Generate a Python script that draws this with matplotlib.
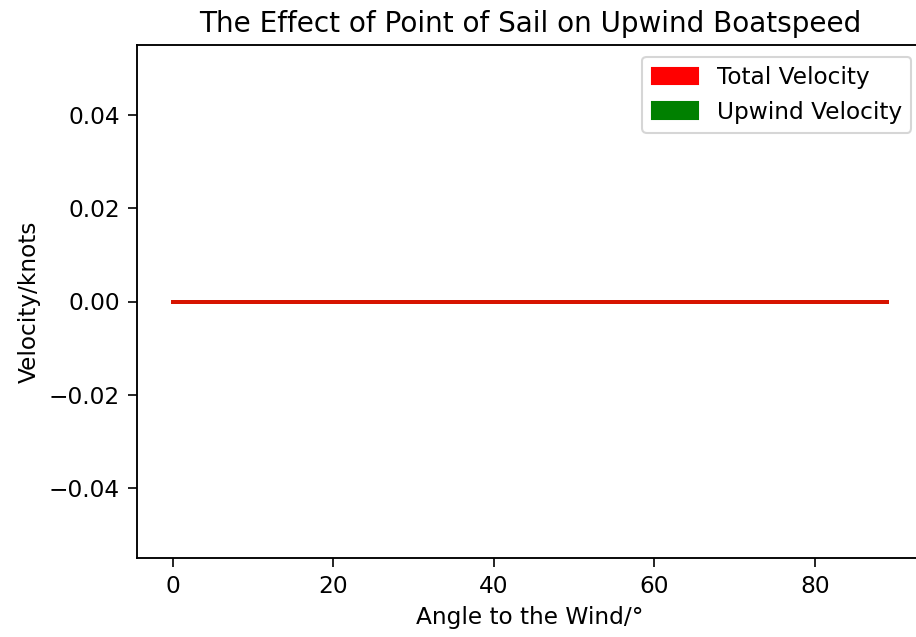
import matplotlib
matplotlib.use("Agg")
import matplotlib.pyplot as plt
import matplotlib.patches as mpatches

# Angle to the wind in degrees, and the resulting speeds in knots
angles = list(range(0, 90))
total_velocity = [0.0] * len(angles)
upwind_velocity = [0.0] * len(angles)

title = "The Effect of Point of Sail on Upwind Boatspeed"
x_label = "Angle to the Wind/°"
y_label = "Velocity/knots"

plt.rcParams.update({
    "font.size": 11.2,
    "xtick.major.size": 4.2,
    "ytick.major.size": 4.2,
    "xtick.major.pad": 4.0,
    "ytick.major.pad": 4.0,
    "axes.linewidth": 0.9,
})

fig = plt.figure(figsize=(916 / 150, 637 / 150), dpi=150)
ax = fig.add_axes([137 / 916, 79 / 637, 786 / 916, 513 / 637])

ax.plot(angles, upwind_velocity, color="green", linewidth=1.9)
ax.plot(angles, total_velocity, color="red", linewidth=1.9, alpha=0.85)

ax.set_title(title, fontsize=13.4)
ax.set_xlabel(x_label)
ax.set_ylabel(y_label)
ax.set_xticks([0, 20, 40, 60, 80])

handles = [mpatches.Patch(color="red", label="Total Velocity"),
           mpatches.Patch(color="green", label="Upwind Velocity")]
ax.legend(handles=handles, loc="upper right")

fig.savefig("out.png", dpi=150)
